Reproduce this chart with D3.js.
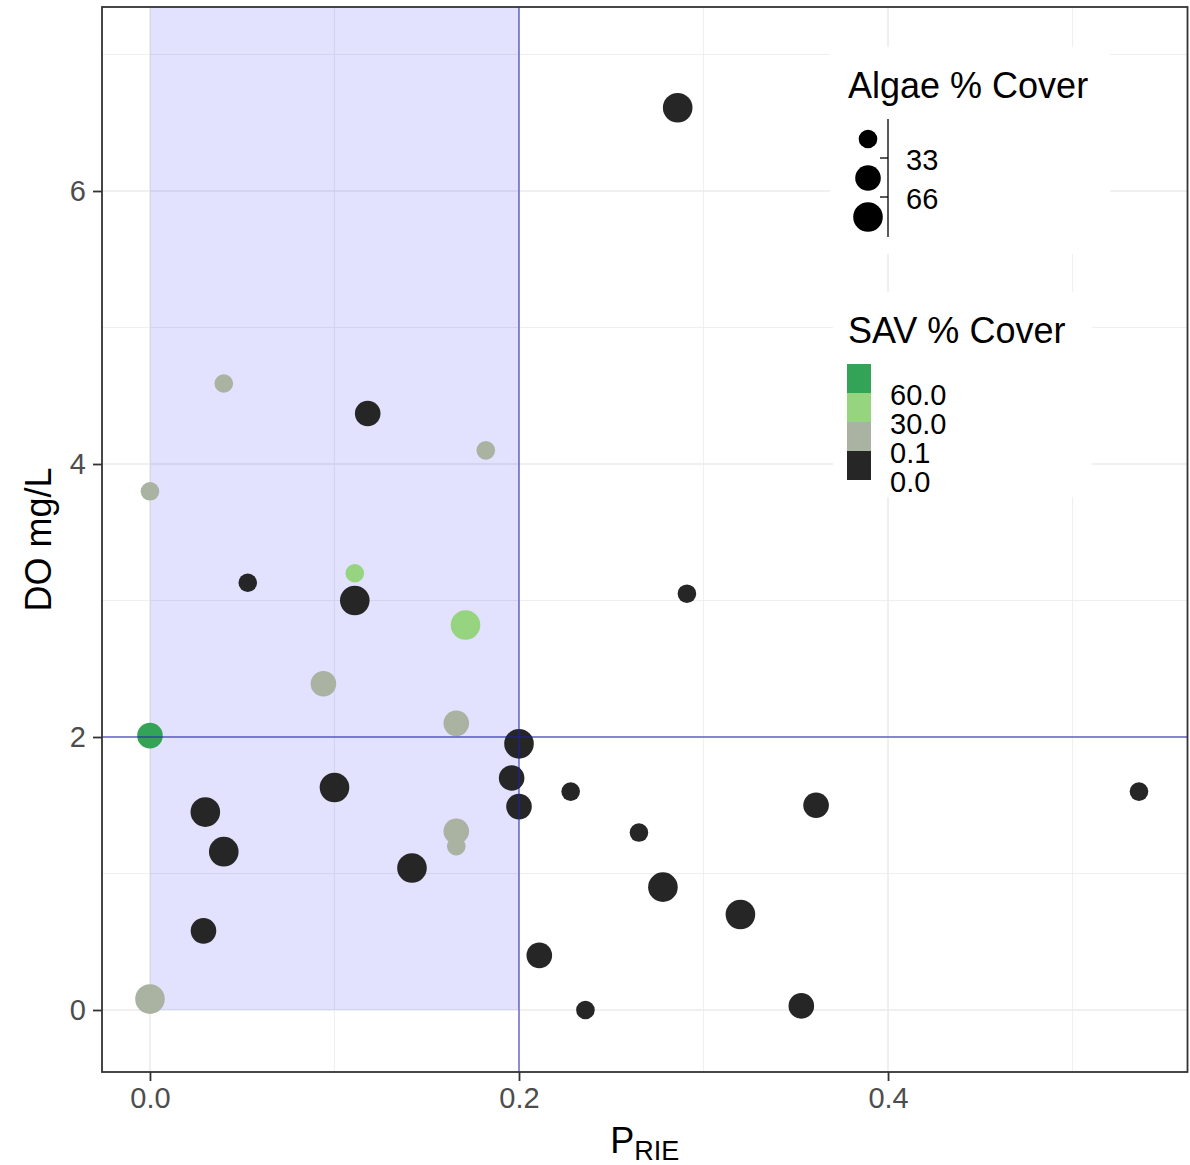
<!DOCTYPE html>
<html>
<head>
<meta charset="utf-8">
<script src="https://cdn.jsdelivr.net/npm/d3@7"></script>
<style>
  html, body { margin: 0; padding: 0; background: #fff; }
  svg text { font-family: "Liberation Sans", Arial, sans-serif; }
</style>
</head>
<body>
<svg id="chart" width="1190" height="1165"></svg>
<script>
// ---- data ----
const prie = [0.040, 0.118, 0.182, 0.000, 0.053, 0.111, 0.111, 0.171, 0.094, 0.166,
              0.000, 0.200, 0.196, 0.228, 0.100, 0.200, 0.030, 0.166, 0.166, 0.040,
              0.142, 0.029, 0.211, 0.000, 0.361, 0.265, 0.278, 0.320, 0.236, 0.353,
              0.286, 0.291, 0.536];
const doMgL = [4.59, 4.37, 4.10, 3.80, 3.13, 3.20, 3.00, 2.82, 2.39, 2.10,
               2.01, 1.95, 1.70, 1.60, 1.63, 1.49, 1.45, 1.31, 1.20, 1.16,
               1.04, 0.58, 0.40, 0.08, 1.50, 1.30, 0.90, 0.70, 0.00, 0.03,
               6.61, 3.05, 1.60];
const algaeCover = [20, 50, 20, 20, 20, 20, 80, 80, 50, 50,
                    50, 80, 50, 20, 80, 50, 80, 50, 20, 80,
                    80, 50, 50, 80, 50, 20, 80, 80, 20, 50,
                    80, 20, 20];
const savCover = [10, 0, 10, 10, 0, 40, 0, 40, 10, 10,
                  70, 0, 0, 0, 0, 0, 0, 10, 10, 0,
                  0, 0, 0, 10, 0, 0, 0, 0, 0, 0,
                  0, 0, 0];

const xMajorTicks = [0.0, 0.2, 0.4];
const xMinorTicks = [0.1, 0.3, 0.5];
const yMajorTicks = [0, 2, 4, 6];
const yMinorTicks = [1, 3, 5, 7];

const algaeBreaks = [33, 66];
const algaeBreakLabels = ["33", "66"];
const savBreaks = [0.1, 30, 60];
const savLegendLabels = ["60.0", "30.0", "0.1", "0.0"];
const savColors = ["#262626", "#aab2a1", "#97d480", "#33a457"];

const shadeX = [0, 0.2];
const shadeYmin = 0;
const refX = 0.2;
const refY = 2;

// ---- layout ----
const svg = d3.select("#chart");
const P = { left: 102, right: 1187.5, top: 7, bottom: 1072 };

const x = d3.scaleLinear().domain([-0.026, 0.5623]).range([P.left, P.right]);
const y = d3.scaleLinear().domain([-0.4542, 7.348]).range([P.bottom, P.top]);
const rScale = d3.scaleThreshold().domain(algaeBreaks).range([9.3, 12.8, 14.8]);
const cScale = d3.scaleThreshold().domain(savBreaks).range(savColors);

const data = prie.map((p, i) => ({ x: p, y: doMgL[i], a: algaeCover[i], s: savCover[i] }));

svg.append("rect").attr("width", 1190).attr("height", 1165).attr("fill", "#fff");

const defs = svg.append("defs");
defs.append("clipPath").attr("id", "panel").append("rect")
  .attr("x", P.left).attr("y", P.top).attr("width", P.right - P.left).attr("height", P.bottom - P.top);

const panel = svg.append("g").attr("clip-path", "url(#panel)");

// gridlines
panel.selectAll(".xmin").data(xMinorTicks).join("line")
  .attr("x1", d => x(d)).attr("x2", d => x(d)).attr("y1", P.top).attr("y2", P.bottom)
  .attr("stroke", "#ebebeb").attr("stroke-width", 0.8);
panel.selectAll(".ymin").data(yMinorTicks).join("line")
  .attr("y1", d => y(d)).attr("y2", d => y(d)).attr("x1", P.left).attr("x2", P.right)
  .attr("stroke", "#ebebeb").attr("stroke-width", 0.8);
panel.selectAll(".xmaj").data(xMajorTicks).join("line")
  .attr("x1", d => x(d)).attr("x2", d => x(d)).attr("y1", P.top).attr("y2", P.bottom)
  .attr("stroke", "#ebebeb").attr("stroke-width", 1.5);
panel.selectAll(".ymaj").data(yMajorTicks).join("line")
  .attr("y1", d => y(d)).attr("y2", d => y(d)).attr("x1", P.left).attr("x2", P.right)
  .attr("stroke", "#ebebeb").attr("stroke-width", 1.5);

// shaded region
panel.append("rect")
  .attr("x", x(shadeX[0])).attr("width", x(shadeX[1]) - x(shadeX[0]))
  .attr("y", P.top).attr("height", y(shadeYmin) - P.top)
  .attr("fill", "rgba(0,0,255,0.115)");

// points
panel.selectAll("circle.pt").data(data).join("circle")
  .attr("class", "pt")
  .attr("cx", d => x(d.x)).attr("cy", d => y(d.y))
  .attr("r", d => rScale(d.a))
  .attr("fill", d => cScale(d.s));

// reference lines
panel.append("line")
  .attr("x1", x(refX)).attr("x2", x(refX)).attr("y1", P.top).attr("y2", P.bottom)
  .attr("stroke", "rgba(30,30,185,0.68)").attr("stroke-width", 1.4);
panel.append("line")
  .attr("y1", y(refY)).attr("y2", y(refY)).attr("x1", P.left).attr("x2", P.right)
  .attr("stroke", "rgba(30,30,185,0.68)").attr("stroke-width", 1.4);

// axes
const xAxis = svg.append("g").attr("transform", `translate(0,${P.bottom})`)
  .call(d3.axisBottom(x).tickValues(xMajorTicks).tickFormat(d3.format(".1f")).tickSize(9).tickPadding(6));
const yAxis = svg.append("g").attr("transform", `translate(${P.left},0)`)
  .call(d3.axisLeft(y).tickValues(yMajorTicks).tickFormat(d3.format("d")).tickSize(9).tickPadding(7));
[xAxis, yAxis].forEach(g => {
  g.select(".domain").remove();
  g.selectAll(".tick line").attr("stroke", "#333").attr("stroke-width", 1.8);
  g.selectAll(".tick text").attr("fill", "#4d4d4d").style("font-size", "29px")
    .style("font-family", "'Liberation Sans', Arial, sans-serif");
});

// panel border
svg.append("rect")
  .attr("x", P.left).attr("y", P.top).attr("width", P.right - P.left).attr("height", P.bottom - P.top)
  .attr("fill", "none").attr("stroke", "#333").attr("stroke-width", 1.8);

// axis titles
svg.append("text")
  .attr("transform", `translate(51,${(P.top + P.bottom) / 2}) rotate(-90)`)
  .attr("text-anchor", "middle").attr("fill", "#000").style("font-size", "36px")
  .text("DO mg/L");
const xt = svg.append("text")
  .attr("x", (P.left + P.right) / 2).attr("y", 1153)
  .attr("text-anchor", "middle").attr("fill", "#000").style("font-size", "36px");
xt.append("tspan").text("P");
xt.append("tspan").attr("dy", 7).style("font-size", "27px").text("RIE");

// ---- legend: Algae % Cover ----
const lg1 = svg.append("g");
lg1.append("rect").attr("x", 830).attr("y", 47).attr("width", 280).attr("height", 207).attr("fill", "#fff");
lg1.append("text").attr("x", 848).attr("y", 98).style("font-size", "36px").attr("fill", "#000").text("Algae % Cover");
const sizeKeys = [20, 50, 80];
const sizeKeyY = d3.scalePoint().domain(sizeKeys).range([139, 217]);
lg1.selectAll("circle").data(sizeKeys).join("circle")
  .attr("cx", 868).attr("cy", d => sizeKeyY(d)).attr("r", d => rScale(d)).attr("fill", "#000");
lg1.append("line").attr("x1", 888).attr("x2", 888).attr("y1", 119).attr("y2", 237)
  .attr("stroke", "#000").attr("stroke-width", 1.3);
const breakY = [158, 197];
lg1.selectAll("line.tk").data(algaeBreakLabels).join("line").attr("class", "tk")
  .attr("x1", 880).attr("x2", 888).attr("y1", (d, i) => breakY[i]).attr("y2", (d, i) => breakY[i])
  .attr("stroke", "#000").attr("stroke-width", 1.3);
lg1.selectAll("text.lb").data(algaeBreakLabels).join("text").attr("class", "lb")
  .attr("x", 906).attr("y", (d, i) => breakY[i] + 12).style("font-size", "29px").attr("fill", "#000")
  .text(d => d);

// ---- legend: SAV % Cover ----
const lg2 = svg.append("g");
lg2.append("rect").attr("x", 833).attr("y", 292).attr("width", 259).attr("height", 205).attr("fill", "#fff");
lg2.append("text").attr("x", 848).attr("y", 343).style("font-size", "36px").attr("fill", "#000").text("SAV % Cover");
const keyColors = savColors.slice().reverse();
const keyH = 29, keyTop = 364;
lg2.selectAll("rect.key").data(keyColors).join("rect").attr("class", "key")
  .attr("x", 847).attr("y", (d, i) => keyTop + i * keyH).attr("width", 24).attr("height", keyH)
  .attr("fill", d => d);
lg2.selectAll("text.lb").data(savLegendLabels).join("text").attr("class", "lb")
  .attr("x", 890).attr("y", (d, i) => keyTop + (i + 1) * keyH + 12).style("font-size", "29px").attr("fill", "#000")
  .text(d => d);
</script>
</body>
</html>
